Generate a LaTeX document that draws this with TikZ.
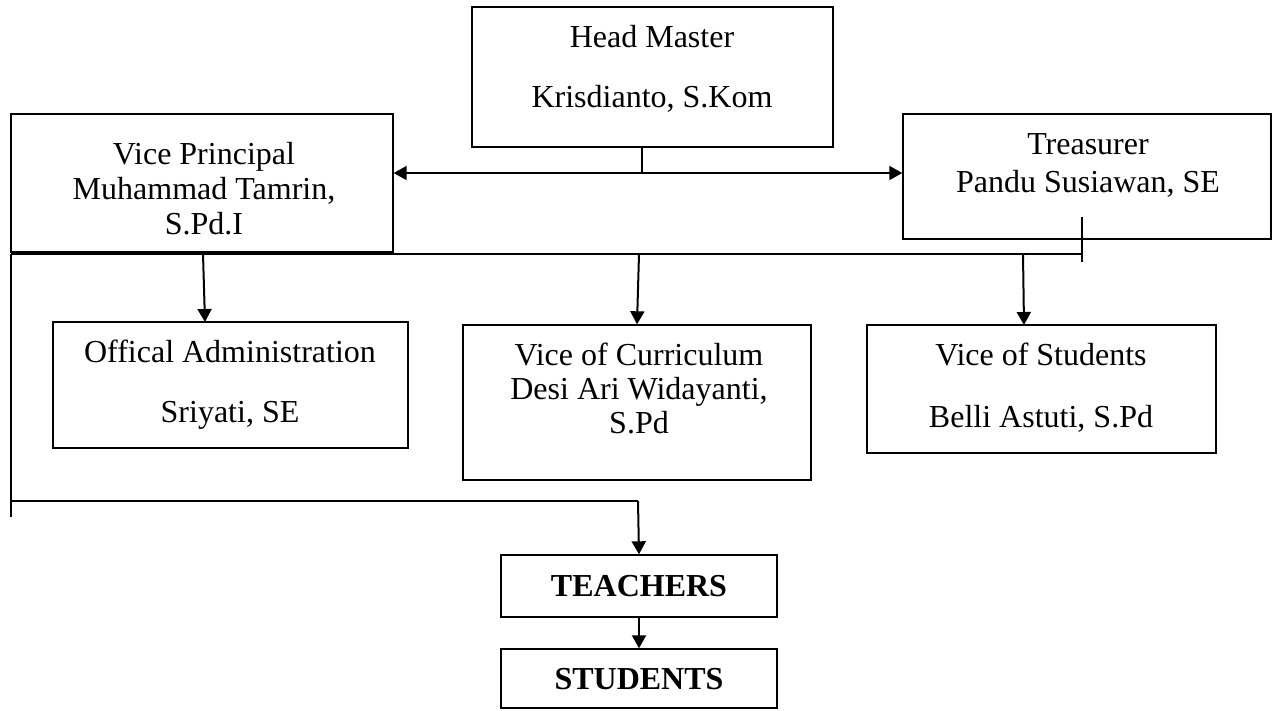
\documentclass[tikz,border=0pt]{standalone}
\usepackage{fontspec}
\setmainfont{Liberation Serif}
\usetikzlibrary{arrows.meta}
\begin{document}
\begin{tikzpicture}[x=1pt,y=1pt,
  box/.style={draw=black,line width=1.4pt,rectangle,inner sep=0pt},
  txt/.style={anchor=base,inner sep=0pt,font=\fontsize{32}{35}\selectfont},
  btxt/.style={anchor=base,inner sep=0pt,font=\fontsize{32}{35}\selectfont\bfseries},
  conn/.style={line width=1.4pt},
  arr/.style={line width=2pt,-{Triangle[length=13pt,width=14pt]}},
  darr/.style={line width=2pt,{Triangle[length=13pt,width=14pt]}-{Triangle[length=13pt,width=14pt]}}]
\useasboundingbox (0,0) rectangle (1280,-710);
\fill[white] (0,0) rectangle (1280,-710);
% boxes
\node[box,minimum width=361pt,minimum height=140pt] (hm) at (652.5,-77) {};
\node[box,minimum width=382pt,minimum height=138pt] (vp) at (202,-183) {};
\node[box,minimum width=368pt,minimum height=125pt] (tr) at (1087,-176.5) {};
\node[box,minimum width=355pt,minimum height=126pt] (oa) at (230.5,-385) {};
\node[box,minimum width=348pt,minimum height=155pt] (vc) at (637,-402.5) {};
\node[box,minimum width=349pt,minimum height=128pt] (vs) at (1041.5,-389) {};
\node[box,minimum width=276pt,minimum height=62pt] (te) at (639,-586) {};
\node[box,minimum width=276pt,minimum height=59pt] (st) at (639,-678.5) {};
% texts
\node[txt] (hmA) at (652,-47) {Head Master};
\node[txt] (hmB) at (652,-107) {Krisdianto, S.Kom};
\node[txt] (vpA) at (204,-164) {Vice Principal};
\node[txt] (vpB) at (204,-199) {Muhammad Tamrin,};
\node[txt] (vpC) at (204,-234) {S.Pd.I};
\node[txt] (trA) at (1088,-154) {Treasurer};
\node[txt] (trB) at (1088,-192) {Pandu Susiawan, SE};
\node[txt] (oaA) at (230,-362) {Offical Administration};
\node[txt] (oaB) at (230,-422) {Sriyati, SE};
\node[txt] (vcA) at (639,-365) {Vice of Curriculum};
\node[txt] (vcB) at (639,-399) {Desi Ari Widayanti,};
\node[txt] (vcC) at (639,-433) {S.Pd};
\node[txt] (vsA) at (1041,-365) {Vice of Students};
\node[txt] (vsB) at (1041,-427) {Belli Astuti, S.Pd};
\node[btxt] (teA) at (639,-596) {TEACHERS};
\node[btxt] (stA) at (639,-689) {STUDENTS};
% connector coordinates
\coordinate (hmj) at (642,-173);
\coordinate (busL) at (11,-254);
\coordinate (busR) at (1082,-254);
\coordinate (tickT) at (1082,-217);
\coordinate (tickB) at (1082,-262);
\coordinate (leftB) at (11,-517);
\coordinate (lowL) at (11,-501);
\coordinate (lowR) at (638,-501);
\coordinate (oaS) at (203,-254);
\coordinate (vcS) at (639,-254);
\coordinate (vsS) at (1023,-254);
% connectors
\draw[conn] (hmj |- hm.south) -- (hmj);
\draw[darr] (hmj -| vp.east) -- (hmj -| tr.west);
\draw[conn] (busL) -- (busR);
\draw[conn] (tickT) -- (tickB);
\draw[conn] (busL) -- (leftB);
\draw[conn] (lowL) -- (lowR);
\draw[arr] (lowR) -- (te.north);
\draw[arr] (oaS) -- (205,-322);
\draw[arr] (vcS) -- (vc.north);
\draw[arr] (vsS) -- (1024,-325);
\draw[arr] (te.south) -- (st.north);
\end{tikzpicture}
\end{document}
